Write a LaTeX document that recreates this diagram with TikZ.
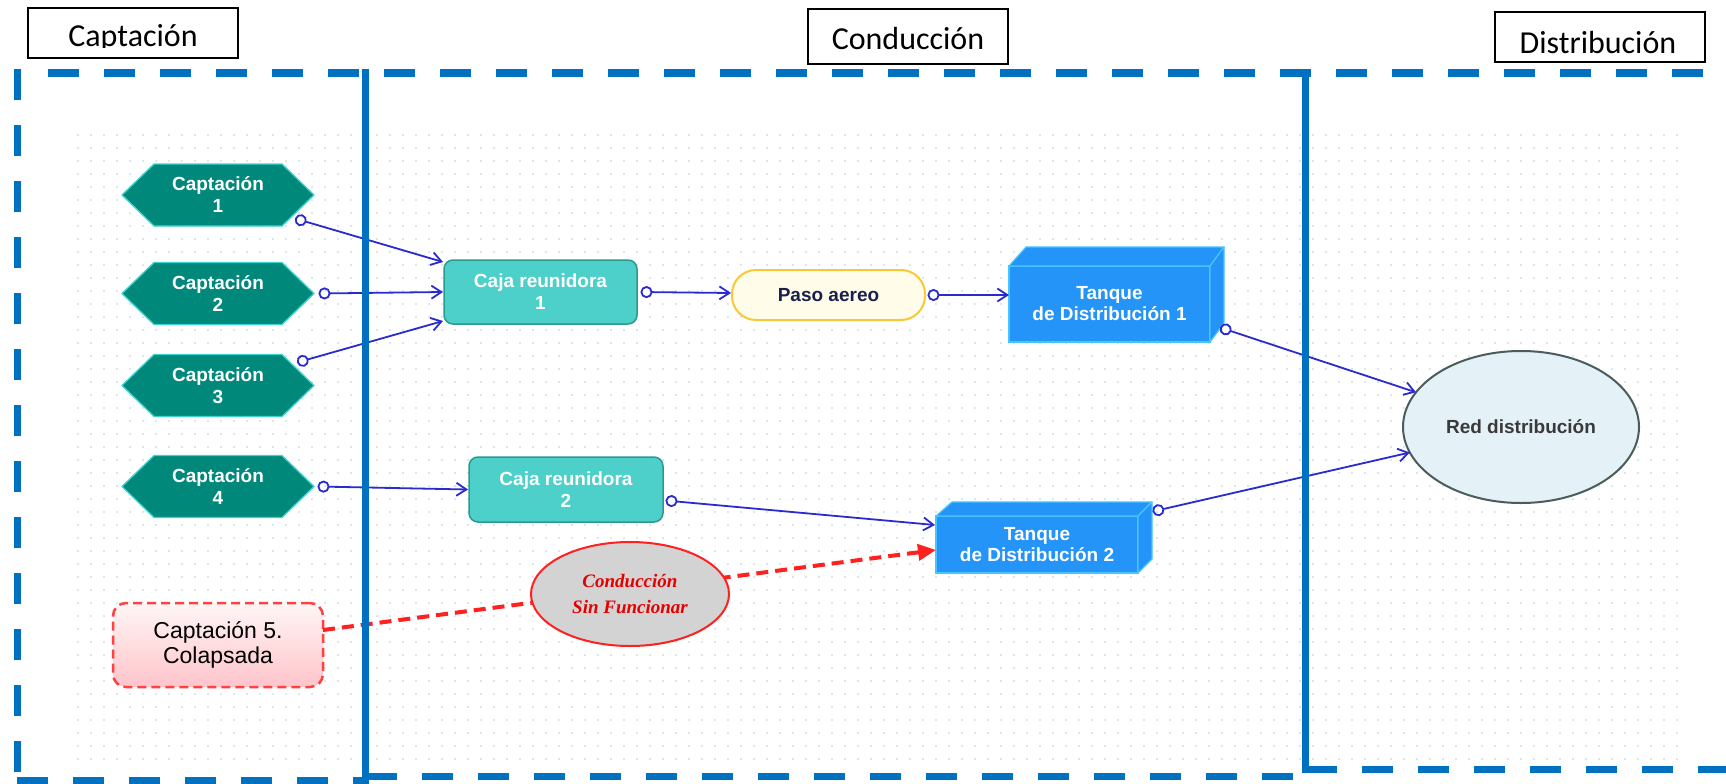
\documentclass[tikz,border=0pt]{standalone}
\usepackage{fontspec}
\setmainfont{Liberation Sans}
\newfontfamily\hdrfont{Carlito}
\newfontfamily\serfont{Liberation Serif}
\usetikzlibrary{arrows.meta,shapes.geometric,backgrounds}
\definecolor{zoneblue}{HTML}{0070C0}
\definecolor{griddot}{HTML}{DCE6EE}
\definecolor{hexteal}{HTML}{00897B}
\definecolor{hexedge}{HTML}{3FD3D0}
\definecolor{cajafill}{HTML}{4DD0C9}
\definecolor{cajaedge}{HTML}{2A9A90}
\definecolor{pasofill}{HTML}{FFFDE9}
\definecolor{pasoedge}{HTML}{F7C934}
\definecolor{pasotext}{HTML}{1B1F4B}
\definecolor{tankfill}{HTML}{2594F8}
\definecolor{tankedge}{HTML}{45C6FF}
\definecolor{redfill}{HTML}{E4F1F6}
\definecolor{rededge}{HTML}{4A5C5C}
\definecolor{redtext}{HTML}{3A3A3A}
\definecolor{connblue}{HTML}{2A2ACF}
\definecolor{failred}{HTML}{FF2020}
\definecolor{pinktop}{HTML}{FFF6F6}
\definecolor{pinkbot}{HTML}{FFC4CA}
\definecolor{sinfill}{HTML}{D3D3D3}
\begin{document}
\begin{tikzpicture}[x=1pt,y=-1pt,
  nodefont/.style={font=\bfseries\fontsize{19}{22}\selectfont},
  hexnode/.style={nodefont, text=white, align=center, minimum width=192pt, minimum height=62pt, inner sep=0pt, outer sep=0pt},
  hexshape/.style={fill=hexteal, draw=hexedge, line width=1.3pt, line join=round},
  caja/.style={nodefont, text=white, align=center, fill=cajafill, draw=cajaedge, line width=1.5pt, rounded corners=9pt, minimum width=193pt, minimum height=64pt, inner sep=0pt, outer sep=0pt},
  pasobox/.style={nodefont, text=pasotext, fill=pasofill, draw=pasoedge, line width=2pt, rounded corners=24pt, minimum width=193pt, minimum height=50pt, inner sep=0pt, outer sep=0pt},
  tank/.style={font=\bfseries\fontsize{19}{21}\selectfont, text=white, align=center, fill=tankfill, draw=tankedge, line width=1.2pt, inner sep=0pt, outer sep=0pt},
  tankside/.style={fill=tankfill, draw=tankedge, line width=1.2pt, line join=round},
  rednet/.style={ellipse, nodefont, text=redtext, fill=redfill, draw=rededge, line width=2pt, minimum width=236pt, minimum height=152pt, inner sep=0pt, outer sep=0pt},
  collapsed/.style={font=\fontsize{23}{25}\selectfont, text=black, align=center, top color=pinktop, bottom color=pinkbot, draw=failred!85, line width=2.5pt, dash pattern=on 9pt off 5pt, rounded corners=13pt, minimum width=210pt, minimum height=84pt, inner sep=0pt, outer sep=0pt},
  sinf/.style={ellipse, font=\serfont\bfseries\itshape\fontsize{19}{26}\selectfont, text=red!90!black, align=center, fill=sinfill, draw=failred, line width=2pt, minimum width=198pt, minimum height=104pt, inner sep=0pt, outer sep=0pt},
  hdrbox/.style={draw=black, line width=1.5pt, fill=white},
  hdrtext/.style={font=\hdrfont\fontsize{32}{36}\selectfont, anchor=base, inner sep=0pt},
  conn/.style={draw=connblue, line width=1.8pt, {Circle[open,length=12pt,width=12pt]}-{Straight Barb[length=10pt,width=13pt]}},
  failconn/.style={draw=failred, line width=4pt, dash pattern=on 12pt off 7pt, -{Triangle[length=18pt,width=16pt]}},
  zonedash/.style={draw=zoneblue, line width=7pt, dash pattern=on 31pt off 25pt},
  zonesolid/.style={draw=zoneblue, line width=7pt}
]
\useasboundingbox (0,0) rectangle (1726,784);

% captacion hexagon texts
\foreach \i/\cy in {1/195,2/293.5,3/385.5,4/486.5} {
  \node[hexnode] (cap\i) at (218,\cy) {Captación\\\i};
}

\begin{pgfonlayer}{background}
  \fill[white] (0,0) rectangle (1726,784);
  % dotted grid
  \foreach \gy in {135,148,...,765}
    \draw[griddot, line width=1.8pt, dash pattern=on 1.8pt off 11.2pt] (77,\gy) -- (1686,\gy);
  % hexagon shapes
  \foreach \i in {1,2,3,4}
    \path[hexshape] (cap\i.west) -- ([xshift=32pt]cap\i.north west) -- ([xshift=-32pt]cap\i.north east) -- (cap\i.east) -- ([xshift=-32pt]cap\i.south east) -- ([xshift=32pt]cap\i.south west) -- cycle;
\end{pgfonlayer}

% header labels
\begin{scope}
  \clip (28,8) rectangle (238,47.5);
  \node[hdrtext] (hcap) at (133,47) {Captación};
\end{scope}
\draw[hdrbox, fill=none] (28,8) rectangle (238,58);
\node[hdrbox, minimum width=200pt, minimum height=55pt, inner sep=0pt] (hcond) at (908,36.5) {};
\node[hdrtext] (hcondt) at (908,50) {Conducción};
\node[hdrbox, minimum width=210pt, minimum height=50pt, inner sep=0pt] (hdist) at (1600,37) {};
\node[hdrtext] (hdistt) at (1598,53) {Distribución};

% boxes
\node[caja] (caja1) at (540.5,292) {Caja reunidora\\1};
\node[caja, minimum width=194pt, minimum height=65pt] (caja2) at (566,489.5) {Caja reunidora\\2};
\node[pasobox] (paso) at (828.5,295) {Paso aereo};

% tanks
\node[tank, minimum width=201pt, minimum height=76pt] (tq1) at (1109.5,304) {Tanque\\de Distribución 1};
\path[tankside] (tq1.north west) -- ([shift={(17pt,19pt)}]tq1.north west) -- ([shift={(14pt,19pt)}]tq1.north east) -- (tq1.north east) -- cycle;
\path[tankside] (tq1.north east) -- ([shift={(14pt,19pt)}]tq1.north east) -- ([shift={(14pt,19pt)}]tq1.south east) -- (tq1.south east) -- cycle;

\node[tank, minimum width=202pt, minimum height=57pt] (tq2) at (1037,544.5) {Tanque\\de Distribución 2};
\path[tankside] (tq2.north west) -- ([shift={(16pt,14pt)}]tq2.north west) -- ([shift={(14pt,14pt)}]tq2.north east) -- (tq2.north east) -- cycle;
\path[tankside] (tq2.north east) -- ([shift={(14pt,14pt)}]tq2.north east) -- ([shift={(14pt,14pt)}]tq2.south east) -- (tq2.south east) -- cycle;

% red network
\node[rednet] (red) at (1521,427) {Red distribución};

% collapsed source
\node[collapsed] (cap5) at (218,645) {Captación 5.\\Colapsada};

% failed conduction
\draw[failconn] ([yshift=15pt]cap5.east) -- ([yshift=-5.5pt]tq2.west);
\node[sinf] (sinf) at (630,594) {Conducción\\Sin Funcionar};

% connectors
\draw[conn] ([xshift=-19pt,yshift=7.5pt]cap1.south east) -- ([xshift=-1pt,yshift=-2pt]caja1.north west);
\draw[conn] ([xshift=4.5pt]cap2.east) -- ([xshift=-1pt]caja1.west);
\draw[conn] ([xshift=-17pt,yshift=-8pt]cap3.north east) -- ([xshift=-1pt,yshift=3pt]caja1.south west);
\draw[conn] ([xshift=3.5pt]cap4.east) -- ([xshift=-1pt]caja2.west);
\draw[conn] ([xshift=3.5pt]caja1.east) -- ([xshift=-1pt,yshift=2pt]paso.west);
\draw[conn] ([xshift=2.5pt]paso.east) -- ([yshift=9pt]tq1.west);
\draw[conn] ([xshift=10pt,yshift=14.5pt]tq1.south east) -- (red);
\draw[conn] ([xshift=2.5pt,yshift=-11pt]caja2.east) -- ([xshift=-1pt,yshift=-9pt]tq2.north west);
\draw[conn] ([xshift=14.5pt,yshift=4.5pt]tq2.north east) -- (red);

% zone boundaries
\draw[zonedash] (48,73) -- (1726,73);
\draw[zonedash] (17,69) -- (17,784);
\draw[zonedash] (17,780) -- (365.5,780);
\draw[zonedash] (365.5,776) -- (1305.5,776);
\draw[zonedash] (1305.5,769) -- (1726,769);
\draw[zonesolid] (365.5,69) -- (365.5,784);
\draw[zonesolid] (1305.5,69) -- (1305.5,772.5);
\end{tikzpicture}
\end{document}
